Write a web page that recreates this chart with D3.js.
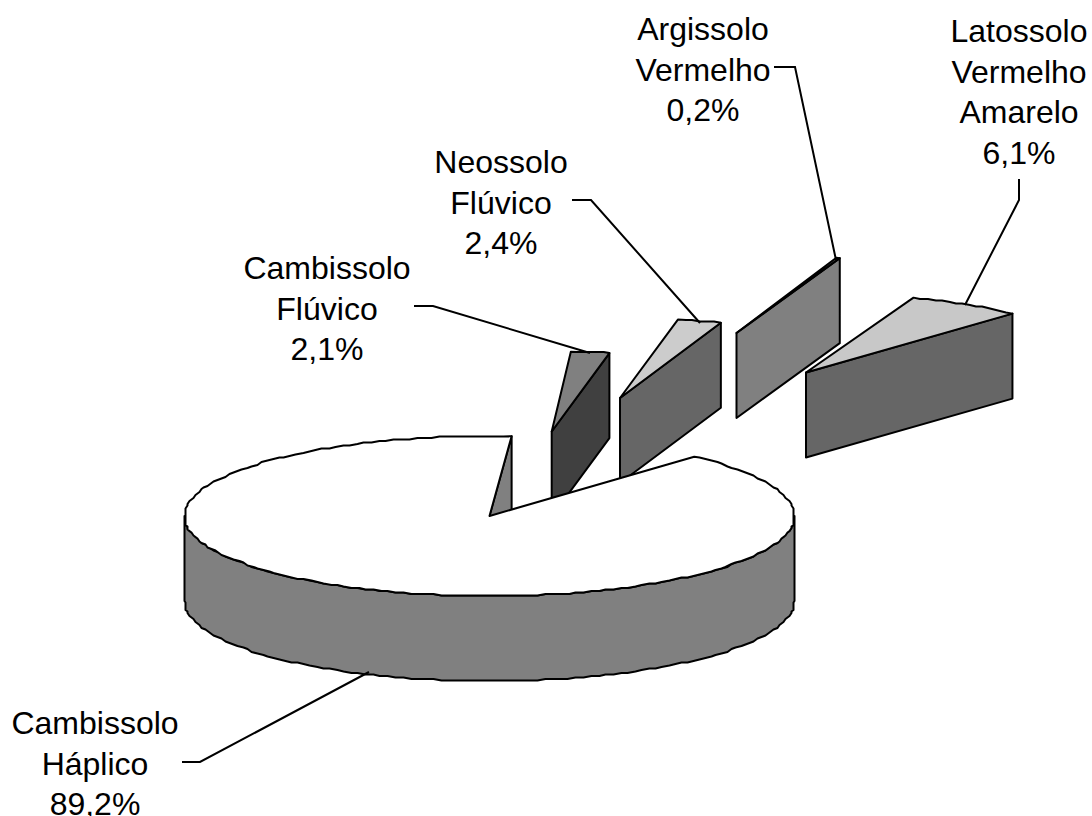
<!doctype html>
<html>
<head>
    <meta charset="UTF-8">
    <title>Classes de solo</title>
    <script src="https://d3js.org/d3.v7.min.js"></script>
    <style>
        html, body { margin: 0; padding: 0; background: #fff; }
        svg { display: block; }
        text { font-family: "Liberation Sans", Arial, sans-serif; font-size: 32px; fill: #000; text-anchor: middle; }
    </style>
</head>
<body>
    <svg id="chart" width="1092" height="816"></svg>
    <script>
        // data
        var names = ["Cambissolo Háplico", "Cambissolo Flúvico", "Neossolo Flúvico", "Argissolo Vermelho", "Latossolo Vermelho Amarelo"];
        var values = [89.2, 2.1, 2.4, 0.2, 6.1];
        var percents = ["89,2%", "2,1%", "2,4%", "0,2%", "6,1%"];

        // drawing layout
        var w = 1092, h = 816;
        var ry = 80, depth = 85;
        var startDeg = 42.6;
        var overlapDeg = 0.44;
        var radii = [305, 295, 296, 293, 305];
        var apexes = [[489.5, 516], [551.7, 431.5], [620, 398], [736.5, 333], [806, 372.5]];
        var topFill = ["#ffffff", "#808080", "#cccccc", "#808080", "#c8c8c8"];
        var sideFill = ["#808080", "#404040", "#666666", "#808080", "#666666"];
        var labelPos = [[95, 734], [327, 279], [501, 173], [703, 40], [1019, 42]];
        var lineStep = 40.5;
        var leaders = [
            [[182, 762], [200, 762], [369, 672]],
            [[414, 306], [433, 306], [590, 353]],
            [[572, 200], [591, 200], [700, 323]],
            [[774, 67], [795, 67], [836, 260]],
            [[1019, 179], [1019, 200], [965, 305]]
        ];

        var svg = d3.select("#chart");
        var rad = Math.PI / 180;
        var pie = d3.pie().sort(null).value(function(d){ return d; })
                    .startAngle(startDeg * rad)
                    .endAngle((startDeg + 360) * rad);
        var arcs = pie(values);
        var line = d3.line();

        // outline of the rim, slightly stepped like the original metafile
        function rim(a0, a1, rx){
            var n = Math.max(1, Math.ceil(Math.abs(a1 - a0) / (1.5 * rad)));
            return d3.range(n + 1).map(function(i){
                var a = a0 + (a1 - a0) * i / n;
                var x = rx * Math.sin(a), y = -ry * Math.cos(a);
                if(i == 0 || i == n) return [x, y];
                return [Math.round(x / 2) * 2, Math.round(y / 1.5) * 1.5];
            });
        }

        function shift(pts, dy){
            return pts.map(function(p){ return [p[0], p[1] + dy]; });
        }

        function drawSlice(d, i){
            var c = apexes[i];
            var rx = radii[i];
            var g = svg.append("g").attr("transform", "translate(" + c[0] + "," + c[1] + ")");
            var a0 = d.startAngle, a1 = d.endAngle;
            if(i == 0){
                a0 -= overlapDeg * rad;
                a1 += overlapDeg * rad;
            }
            var r = rim(a0, a1, rx);
            var style = function(sel, fill){
                sel.attr("fill", fill).attr("stroke", "#000").attr("stroke-width", 2).attr("stroke-linejoin", "round");
            };

            // wall from the centre to the clockwise end of the slice
            var e = r[r.length - 1];
            g.append("path").attr("d", line([[0, 0], e, [e[0], e[1] + depth], [0, depth]]) + "Z")
             .call(style, sideFill[i]);

            if(i == 0){
                // front of the cylinder, the part of the rim that faces the viewer
                var front = rim(Math.PI / 2, Math.PI * 1.5, rx);
                var wall = front.concat(shift(front, depth).reverse());
                g.append("path").attr("d", line(wall) + "Z").call(style, sideFill[i]);
            }
            g.append("path").attr("d", line([[0, 0]].concat(r)) + "Z").call(style, topFill[i]);
        }

        // small slices first: the big slice hides their feet
        d3.range(1, arcs.length).forEach(function(i){ drawSlice(arcs[i], i); });
        drawSlice(arcs[0], 0);

        svg.selectAll("path.leader").data(leaders).enter().append("path")
           .attr("class", "leader")
           .attr("d", function(d){ return line(d); })
           .attr("fill", "none").attr("stroke", "#000").attr("stroke-width", 2);

        // labels
        names.forEach(function(n, i){
            var lines = n.split(" ").concat(percents[i]);
            var t = svg.append("text").attr("x", labelPos[i][0]).attr("y", labelPos[i][1]);
            lines.forEach(function(s, k){
                t.append("tspan").attr("x", labelPos[i][0]).attr("y", labelPos[i][1] + k * lineStep).text(s);
            });
        });
    </script>
</body>
</html>
